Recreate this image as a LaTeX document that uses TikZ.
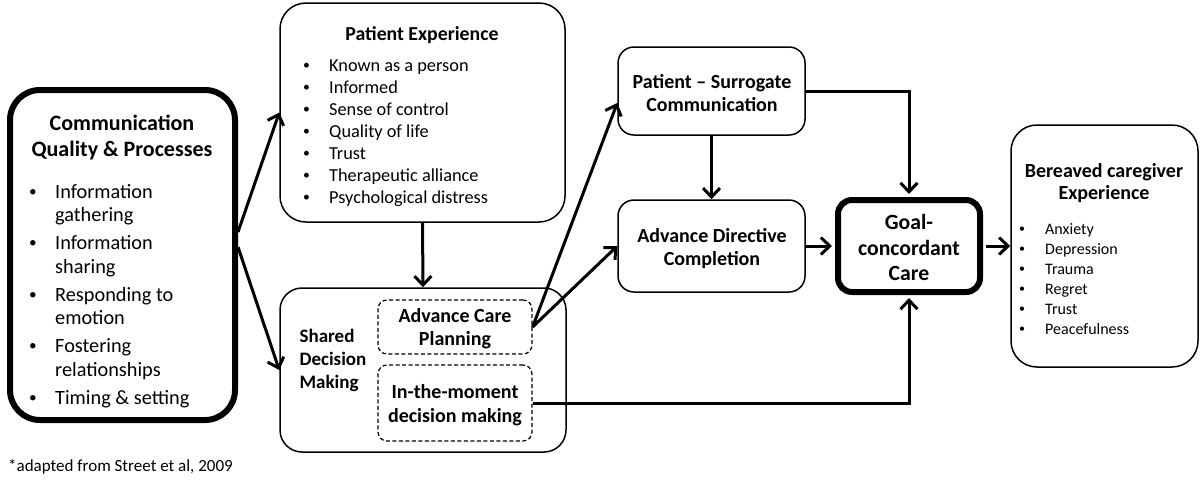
\documentclass[tikz,border=0pt]{standalone}
\usepackage{fontspec}
\usepackage{graphicx}
\setmainfont{Carlito}
\usetikzlibrary{arrows.meta}
\newcommand\mybul{\raisebox{0.08em}{\scalebox{0.75}{\textbullet}}}
\begin{document}
\begin{tikzpicture}[x=1pt,y=-1pt,
  box/.style={draw, line width=1.5pt, inner sep=0pt},
  heavybox/.style={draw, line width=6pt, inner sep=0pt},
  dbox/.style={draw, line width=1.2pt, dash pattern=on 4pt off 2.5pt, rounded corners=9pt, inner sep=0pt},
  arr/.style={line width=3pt, -{Straight Barb[length=9pt,width=17pt]}},
  ttl/.style={inner sep=0pt, align=center},
  lst/.style={inner sep=0pt, anchor=base west}
]
\useasboundingbox (0,0) rectangle (1200,483);
\fill[white] (0,0) rectangle (1200,483);

% boxes
\node[heavybox, rounded corners=30pt, minimum width=225pt, minimum height=330pt] (comm) at (122.5,255) {};
\node[box, rounded corners=26pt, minimum width=285pt, minimum height=219pt] (pe) at (422.5,112.5) {};
\node[box, rounded corners=22pt, minimum width=286pt, minimum height=164pt] (sdm) at (423,370) {};
\node[dbox, minimum width=154pt, minimum height=54pt] (acp) at (455,327) {};
\node[dbox, minimum width=154pt, minimum height=76pt] (itm) at (455,403) {};
\node[box, rounded corners=16pt, minimum width=187pt, minimum height=88pt] (ps) at (711.5,91) {};
\node[box, rounded corners=16pt, minimum width=187pt, minimum height=92pt] (adc) at (711.5,246) {};
\node[heavybox, rounded corners=14pt, minimum width=142pt, minimum height=92pt] (goal) at (909,246) {};
\node[box, rounded corners=26pt, minimum width=187pt, minimum height=242pt] (ber) at (1104.5,246) {};

% texts
\node[ttl, font=\bfseries\fontsize{22}{26}\selectfont] (commT) at (122,137.5) {Communication\\Quality \& Processes};
\node[lst, font=\fontsize{20.3}{23.5}\selectfont] (commL) at (29,198) {\begin{tabular}[t]{@{}p{26pt}@{}l@{}}
\mybul & Information\\ & gathering\\[4.5pt]
\mybul & Information\\ & sharing\\[4.5pt]
\mybul & Responding to\\ & emotion\\[4.5pt]
\mybul & Fostering\\ & relationships\\[4.5pt]
\mybul & Timing \& setting
\end{tabular}};

\node[ttl, font=\bfseries\fontsize{19.8}{23}\selectfont] (peT) at (422,35) {Patient Experience};
\node[lst, font=\fontsize{18.3}{22}\selectfont] (peL) at (303,71) {\begin{tabular}[t]{@{}p{26pt}@{}l@{}}
\mybul & Known as a person\\
\mybul & Informed\\
\mybul & Sense of control\\
\mybul & Quality of life\\
\mybul & Trust\\
\mybul & Therapeutic alliance\\
\mybul & Psychological distress
\end{tabular}};

\node[ttl, font=\bfseries\fontsize{19}{23}\selectfont, align=left] (sdmT) at (333,360) {Shared\\Decision\\Making};
\node[ttl, font=\bfseries\fontsize{20}{23}\selectfont] (acpT) at (455,328.5) {Advance Care\\Planning};
\node[ttl, font=\bfseries\fontsize{20}{24}\selectfont] (itmT) at (455,405) {In-the-moment\\decision making};
\node[ttl, font=\bfseries\fontsize{20}{23}\selectfont] (psT) at (712,93.5) {Patient -- Surrogate\\Communication};
\node[ttl, font=\bfseries\fontsize{20}{23}\selectfont] (adcT) at (712,248.5) {Advance Directive\\Completion};
\node[ttl, font=\bfseries\fontsize{21.7}{25.5}\selectfont] (goalT) at (909,247.5) {Goal-\\concordant\\Care};
\node[ttl, font=\bfseries\fontsize{20}{22}\selectfont] (berT) at (1104,183) {Bereaved caregiver\\Experience};
\node[lst, font=\fontsize{16}{20}\selectfont] (berL) at (1019,234) {\begin{tabular}[t]{@{}p{26pt}@{}l@{}}
\mybul & Anxiety\\
\mybul & Depression\\
\mybul & Trauma\\
\mybul & Regret\\
\mybul & Trust\\
\mybul & Peacefulness
\end{tabular}};
\node[lst, font=\fontsize{17}{20}\selectfont] (note) at (8,471) {*adapted from Street et al, 2009};

% connectors
\draw[arr] ([yshift=23pt]comm.east) -- (pe.west);
\draw[arr] ([yshift=8pt]comm.east) -- (sdm.west);
\draw[arr] (pe.south) -- (sdm.north);
\draw[arr] (acp.east) -- ([yshift=-12pt]ps.west);
\draw[arr] (acp.east) -- (adc.west);
\draw[arr] (ps.south) -- (adc.north);
\draw[arr, shorten >=3pt] (ps.east) -| (goal.north);
\draw[arr, shorten >=3pt] (adc.east) -- (goal.west);
\draw[arr, shorten >=3pt] (itm.east) -| (goal.south);
\draw[arr, shorten <=3pt] (goal.east) -- (ber.west);
\end{tikzpicture}
\end{document}
